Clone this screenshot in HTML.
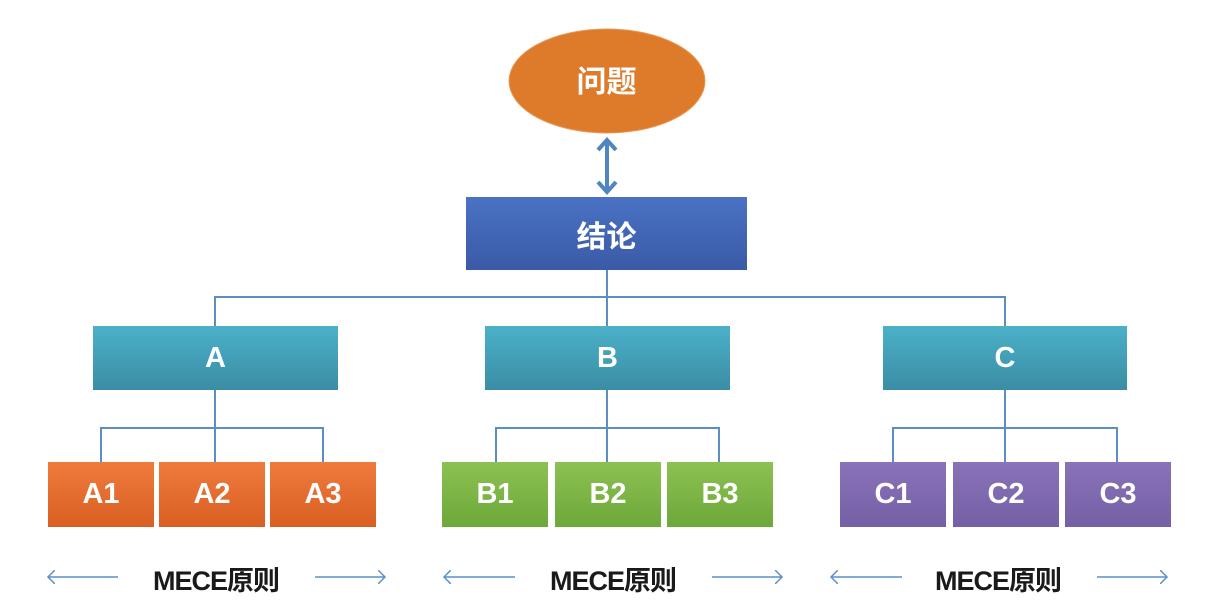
<!DOCTYPE html>
<html><head><meta charset="utf-8"><style>
body{margin:0;background:#fff;width:1215px;height:613px;overflow:hidden;position:relative;font-family:"Liberation Sans","Noto Sans CJK SC",sans-serif}
.b{position:absolute;color:#fff;display:flex;align-items:center;justify-content:center;font-size:29px;font-weight:bold}
.t{background:linear-gradient(#4bb1c9,#3a8da4);}
.o{background:linear-gradient(#f07a3e,#d95f22);}
.g{background:linear-gradient(#8cc152,#6da83a);}
.p{background:linear-gradient(#8a72b8,#7460a6);}
.m{position:absolute;font-size:27px;color:#1a1a1a;top:559px;width:200px;text-align:center;font-weight:bold;letter-spacing:-1px}
</style></head><body>
<svg width="1215" height="613" style="position:absolute;left:0;top:0">
<defs><marker id="ah" markerWidth="12" markerHeight="14" refX="7" refY="7" orient="auto" markerUnits="userSpaceOnUse"><path d="M0,0 L7,7 L0,14" fill="none" stroke="#5a8fc8" stroke-width="1.5"/></marker></defs>
<ellipse cx="607" cy="81" rx="98" ry="52" fill="#dd7b2a" stroke="#e89a5a"/>
<g stroke="#4f86c0" stroke-width="4" fill="none">
<line x1="607" y1="142" x2="607" y2="190"/>
<path d="M598,150 L607,140 L616,150"/><path d="M598,182 L607,192 L616,182"/>
</g>
<g stroke="#5b8fc4" stroke-width="2" fill="none">
<path d="M607,270V326M215,326V297H1005V326M215,390V428M101,462V428H323V462M215,428V462M607,390V428M496,462V428H719V462M607,428V462M1005,390V428M893,462V428H1117V462M1005,428V462"/>
</g>
<g stroke="#5a8fc8" stroke-width="1.5" marker-end="url(#ah)">
<line x1="118" y1="577" x2="48" y2="577"/><line x1="315" y1="577" x2="385" y2="577"/>
<line x1="515" y1="577" x2="444" y2="577"/><line x1="712" y1="577" x2="782" y2="577"/>
<line x1="902" y1="577" x2="831" y2="577"/><line x1="1097" y1="577" x2="1167" y2="577"/>
</g>
</svg>
<div class="b" style="left:508px;top:53px;width:197px;height:52px;font-size:30px">问题</div>
<div class="b" style="left:466px;top:197px;width:281px;height:73px;background:linear-gradient(#4a72c4,#3a5aa6);font-size:30px">结论</div>
<div class="b t" style="left:93px;top:326px;width:245px;height:64px">A</div>
<div class="b t" style="left:485px;top:326px;width:245px;height:64px">B</div>
<div class="b t" style="left:883px;top:326px;width:244px;height:64px">C</div>
<div class="b o" style="left:48px;top:462px;width:106px;height:65px">A1</div>
<div class="b o" style="left:159px;top:462px;width:106px;height:65px">A2</div>
<div class="b o" style="left:270px;top:462px;width:106px;height:65px">A3</div>
<div class="b g" style="left:442px;top:462px;width:106px;height:65px">B1</div>
<div class="b g" style="left:555px;top:462px;width:106px;height:65px">B2</div>
<div class="b g" style="left:667px;top:462px;width:106px;height:65px">B3</div>
<div class="b p" style="left:840px;top:462px;width:106px;height:65px">C1</div>
<div class="b p" style="left:953px;top:462px;width:106px;height:65px">C2</div>
<div class="b p" style="left:1065px;top:462px;width:106px;height:65px">C3</div>
<div class="m" style="left:116px">MECE原则</div>
<div class="m" style="left:513px">MECE原则</div>
<div class="m" style="left:898px">MECE原则</div>
</body></html>
